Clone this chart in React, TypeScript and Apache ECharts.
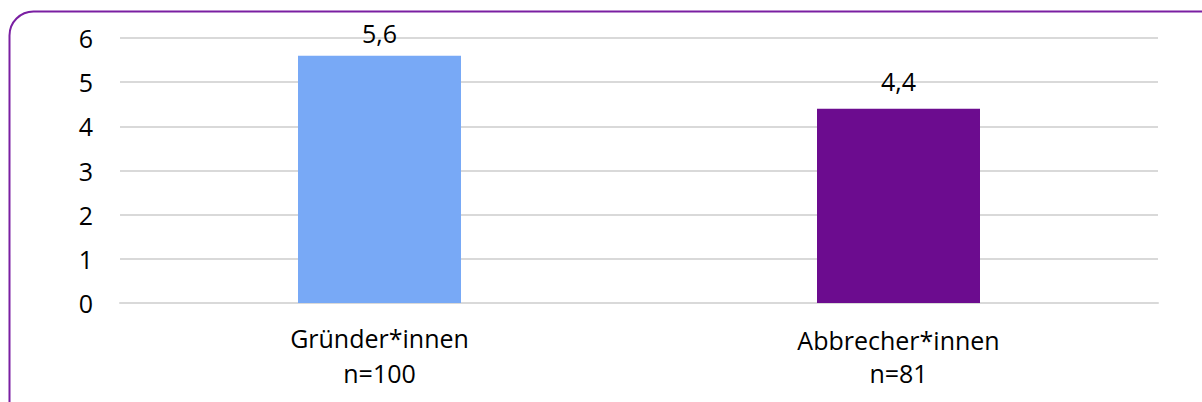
import React, { useEffect, useRef } from "react";
import * as echarts from "echarts";

const categories = ["Gründer*innen\nn=100", "Abbrecher*innen\nn=81"];
const values = [5.6, 4.4];
const barColors = ["#78A9F6", "#6C0C8F"];
const labelDistances = [10, 15];
const yTicks = { min: 0, max: 6, interval: 1 };

export default function App() {
  const ref = useRef<HTMLDivElement>(null);
  useEffect(() => {
    if (!ref.current) return;
    const chart = echarts.init(ref.current, undefined, { renderer: "svg" });
    const font = "'Open Sans', 'Noto Sans', sans-serif";
    chart.setOption({
      animation: false,
      graphic: [
        {
          type: "rect",
          shape: { x: 9.5, y: 11.5, width: 1220, height: 420, r: 24 },
          style: { fill: "none", stroke: "#7A1FA2", lineWidth: 2 },
          silent: true,
        },
      ],
      grid: { left: 120, right: 44, top: 38, bottom: 99 },
      xAxis: {
        type: "category",
        data: categories,
        axisLine: { show: true, lineStyle: { color: "#d9d9d9", width: 2 } },
        axisTick: { show: false },
        axisLabel: {
          margin: 17,
          color: "#000",
          fontFamily: font,
          fontSize: 25,
          lineHeight: 35,
          formatter: (v: string, i: number) => {
            const parts = v.split("\n");
            const first = i === 1 ? "f2" : "f1";
            return `{${first}|${parts[0]}}\n{s|${parts[1]}}`;
          },
          rich: {
            f1: { fontFamily: font, fontSize: 25, lineHeight: 35, color: "#000" },
            f2: { fontFamily: font, fontSize: 25, lineHeight: 35, color: "#000", padding: [5, 0, 0, 0] },
            s: { fontFamily: font, fontSize: 25, lineHeight: 35, color: "#000" },
          },
        },
      },
      yAxis: {
        type: "value",
        min: yTicks.min,
        max: yTicks.max,
        interval: yTicks.interval,
        axisLine: { show: false },
        axisTick: { show: false },
        splitLine: { lineStyle: { color: "#d9d9d9", width: 2 } },
        axisLabel: { margin: 27, color: "#000", fontFamily: font, fontSize: 25 },
      },
      series: [
        {
          type: "bar",
          barWidth: 163,
          data: values.map((v, i) => ({
            value: v,
            itemStyle: { color: barColors[i] },
            label: { distance: labelDistances[i] },
          })),
          label: {
            show: true,
            position: "top",
            color: "#000",
            fontFamily: font,
            fontSize: 25,
            lineHeight: 25,
            formatter: (p: any) => String(p.value).replace(".", ","),
          },
        },
      ],
    });
    return () => chart.dispose();
  }, []);
  return (
    <div
      ref={ref}
      style={{ position: "fixed", left: 0, top: 0, width: 1202, height: 402, background: "#fff" }}
    />
  );
}
